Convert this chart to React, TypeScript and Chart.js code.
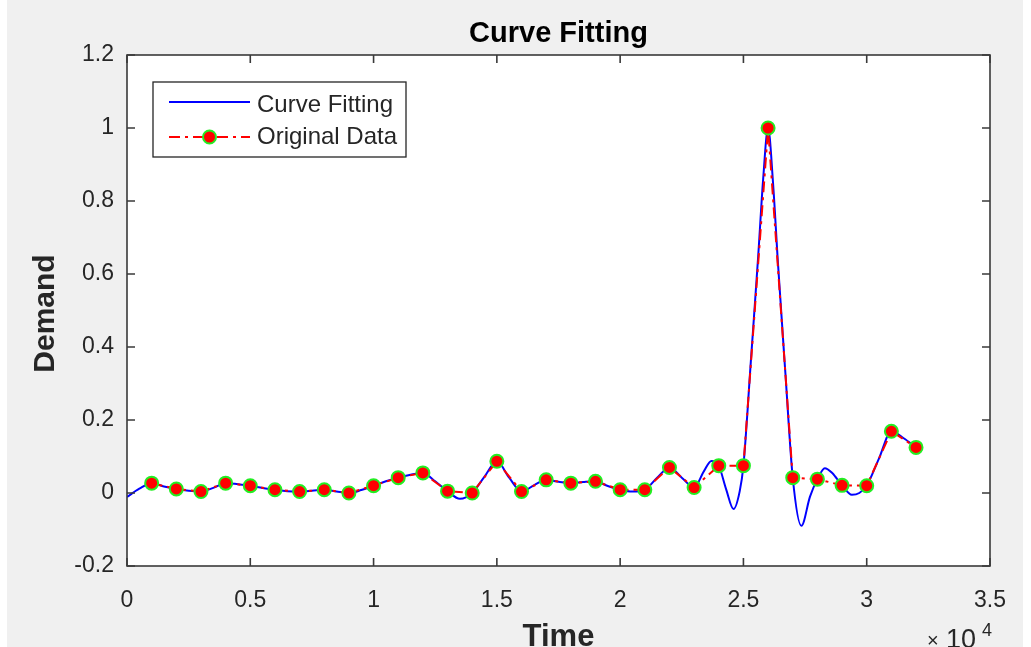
import React, { useEffect, useRef } from "react";
import { Chart, registerables } from "chart.js";

Chart.register(...registerables);

const FONT = '"Liberation Sans", Arial, Helvetica, sans-serif';
const TEXT = "#262626";

const chartTitle = "Curve Fitting";
const xLabel = "Time";
const yLabel = "Demand";
const legendLabels = ["Curve Fitting", "Original Data"];

// Original data
const timeValues = [
  1000, 2000, 3000, 4000, 5000, 6000, 7000, 8000, 9000, 10000, 11000, 12000, 13000, 14000, 15000, 16000,
  17000, 18000, 19000, 20000, 21000, 22000, 23000, 24000, 25000, 26000, 27000, 28000, 29000, 30000, 31000, 32000,
];
const demandValues = [
  0.027, 0.011, 0.004, 0.027, 0.02, 0.009, 0.004, 0.009, 0.0, 0.02, 0.042, 0.055, 0.005, 0.0, 0.087, 0.004,
  0.036, 0.027, 0.032, 0.009, 0.009, 0.07, 0.015, 0.075, 0.075, 1.0, 0.042, 0.038, 0.021, 0.02, 0.169, 0.125,
];

// Fitted curve
const fitTimes = [
  0, 500, 1000, 1500, 2000, 2500, 3000, 3500, 4000, 4500, 5000, 5500, 6000, 6500, 7000, 7500, 8000, 8500, 9000,
  9500, 10000, 10500, 11000, 11500, 12000, 12500, 13000, 13500, 14000, 14500, 15000, 15500, 16000, 16500, 17000,
  17500, 18000, 18500, 19000, 19500, 20000, 20500, 21000, 21500, 22000, 22500, 23000, 23400, 23700, 24000, 24300,
  24600, 24850, 25000, 25300, 25600, 25800, 26000, 26200, 26400, 26700, 27000, 27350, 27700, 28000, 28300, 28600,
  29000, 29400, 29700, 30000, 30500, 31000, 31500, 32000,
];
const fitValues = [
  -0.011, 0.012, 0.027, 0.018, 0.011, 0.006, 0.004, 0.014, 0.027, 0.024, 0.02, 0.014, 0.009, 0.005, 0.004, 0.006,
  0.009, 0.004, 0.0, 0.008, 0.02, 0.032, 0.042, 0.05, 0.055, 0.032, 0.005, -0.016, 0.0, 0.045, 0.087, 0.042, 0.004,
  0.021, 0.036, 0.031, 0.027, 0.03, 0.032, 0.019, 0.009, 0.004, 0.009, 0.042, 0.07, 0.042, 0.015, 0.06, 0.088,
  0.075, 0.01, -0.044, 0.005, 0.075, 0.36, 0.65, 0.86, 1.0, 0.85, 0.63, 0.33, 0.042, -0.09, -0.01, 0.038, 0.068,
  0.055, 0.021, -0.005, 0.0, 0.02, 0.095, 0.169, 0.15, 0.125,
];

const xMin = 0;
const xMax = 35000;
const xStep = 5000;
const yMin = -0.2;
const yMax = 1.2;
const yStep = 0.2;

export default function App() {
  const ref = useRef<HTMLCanvasElement>(null);

  useEffect(() => {
    const canvas = ref.current!;
    const decor = {
      id: "decor",
      beforeDraw(chart: any) {
        const { ctx, chartArea: a, width, height } = chart;
        ctx.save();
        ctx.fillStyle = "#f0f0f0";
        ctx.fillRect(0, 0, width, height);
        ctx.fillStyle = "#ffffff";
        ctx.fillRect(a.left, a.top, a.right - a.left, a.bottom - a.top);
        ctx.restore();
      },
      afterDraw(chart: any) {
        const { ctx, chartArea: a } = chart;
        const xs = chart.scales.x;
        const ys = chart.scales.y;
        ctx.save();
        // box
        ctx.strokeStyle = "#3a3a3a";
        ctx.lineWidth = 1.6;
        ctx.strokeRect(a.left, a.top, a.right - a.left, a.bottom - a.top);
        // inward ticks
        const tl = 8;
        ctx.beginPath();
        xs.ticks.forEach((t: any) => {
          const px = xs.getPixelForValue(t.value);
          ctx.moveTo(px, a.bottom);
          ctx.lineTo(px, a.bottom - tl);
          ctx.moveTo(px, a.top);
          ctx.lineTo(px, a.top + tl);
        });
        ys.ticks.forEach((t: any) => {
          const py = ys.getPixelForValue(t.value);
          ctx.moveTo(a.left, py);
          ctx.lineTo(a.left + tl, py);
          ctx.moveTo(a.right, py);
          ctx.lineTo(a.right - tl, py);
        });
        ctx.stroke();

        // title
        const cx = (a.left + a.right) / 2;
        ctx.fillStyle = "#000000";
        ctx.font = `bold 29px ${FONT}`;
        ctx.textAlign = "center";
        ctx.textBaseline = "alphabetic";
        ctx.fillText(chartTitle, cx, 42);

        // x label
        ctx.fillStyle = TEXT;
        ctx.font = `bold 31px ${FONT}`;
        ctx.fillText(xLabel, cx, 646);

        // y label
        ctx.save();
        ctx.translate(39, (a.top + a.bottom) / 2 + 3);
        ctx.rotate(-Math.PI / 2);
        ctx.textBaseline = "middle";
        ctx.font = `bold 30px ${FONT}`;
        ctx.fillText(yLabel, 0, 0);
        ctx.restore();

        // x10^4
        ctx.textAlign = "left";
        ctx.textBaseline = "alphabetic";
        ctx.font = `20px ${FONT}`;
        ctx.fillText("\u00d7", 920, 647);
        ctx.font = `27px ${FONT}`;
        ctx.fillText("10", 939, 648);
        ctx.font = `18px ${FONT}`;
        ctx.fillText("4", 975, 636);

        // legend
        const lx0 = 146, lx1 = 399, ly0 = 82, ly1 = 157;
        ctx.fillStyle = "#ffffff";
        ctx.fillRect(lx0, ly0, lx1 - lx0, ly1 - ly0);
        ctx.strokeStyle = "#262626";
        ctx.lineWidth = 1.3;
        ctx.strokeRect(lx0, ly0, lx1 - lx0, ly1 - ly0);
        const sx0 = 162, sx1 = 243;
        const r1 = 102, r2 = 137;
        ctx.strokeStyle = "#0000ff";
        ctx.lineWidth = 2;
        ctx.beginPath();
        ctx.moveTo(sx0, r1);
        ctx.lineTo(sx1, r1);
        ctx.stroke();
        ctx.strokeStyle = "#ff0000";
        ctx.setLineDash([11, 5, 3, 5]);
        ctx.beginPath();
        ctx.moveTo(sx0, r2);
        ctx.lineTo(sx1, r2);
        ctx.stroke();
        ctx.setLineDash([]);
        ctx.beginPath();
        ctx.arc((sx0 + sx1) / 2, r2, 6.5, 0, Math.PI * 2);
        ctx.fillStyle = "#ff0000";
        ctx.fill();
        ctx.strokeStyle = "#22ee22";
        ctx.lineWidth = 2;
        ctx.stroke();
        ctx.fillStyle = TEXT;
        ctx.font = `24px ${FONT}`;
        ctx.textAlign = "left";
        ctx.textBaseline = "middle";
        ctx.fillText(legendLabels[0], 250, 105);
        ctx.fillText(legendLabels[1], 250, 137);
        ctx.restore();
      },
    };

    const chart = new Chart(canvas, {
      type: "line",
      data: {
        datasets: [
          {
            label: legendLabels[0],
            data: fitTimes.map((t, i) => ({ x: t, y: fitValues[i] })),
            borderColor: "#0000ff",
            borderWidth: 2,
            pointRadius: 0,
            cubicInterpolationMode: "monotone",
            fill: false,
            order: 2,
          },
          {
            label: legendLabels[1],
            data: timeValues.map((t, i) => ({ x: t, y: demandValues[i] })),
            borderColor: "#ff0000",
            borderWidth: 2,
            borderDash: [11, 5, 3, 5],
            pointRadius: 6.5,
            pointBackgroundColor: "#ff0000",
            pointBorderColor: "#22ee22",
            pointBorderWidth: 2,
            tension: 0,
            fill: false,
            order: 1,
          },
        ],
      },
      options: {
        responsive: false,
        animation: false,
        devicePixelRatio: 1,
        layout: { padding: { top: 55, right: 33, left: 0, bottom: 0 } },
        plugins: {
          legend: { display: false },
          title: { display: false },
          tooltip: { enabled: false },
        },
        scales: {
          x: {
            type: "linear",
            min: xMin,
            max: xMax,
            ticks: {
              stepSize: xStep,
              callback: (v: any) => String(Math.round(Number(v) / 1000) / 10),
              font: { family: FONT, size: 23 },
              color: TEXT,
              padding: 21,
              maxRotation: 0,
              autoSkip: false,
            },
            grid: { display: false, drawTicks: false },
            border: { display: false },
            afterFit: (s: any) => {
              s.height = 81;
              s.paddingLeft = 0;
              s.paddingRight = 0;
            },
          },
          y: {
            type: "linear",
            min: yMin,
            max: yMax,
            ticks: {
              stepSize: yStep,
              callback: (v: any) => String(Math.round(Number(v) * 10) / 10),
              font: { family: FONT, size: 23 },
              color: TEXT,
              padding: 13,
              autoSkip: false,
            },
            grid: { display: false, drawTicks: false },
            border: { display: false },
            afterFit: (s: any) => {
              s.width = 120;
              s.paddingTop = 0;
              s.paddingBottom = 0;
            },
          },
        },
      },
      plugins: [decor],
    } as any);
    return () => chart.destroy();
  }, []);

  return (
    <div style={{ position: "fixed", left: 7, top: 0, width: 1016, height: 647, background: "#f0f0f0" }}>
      <canvas ref={ref} width={1016} height={647} style={{ display: "block", width: 1016, height: 647 }} />
    </div>
  );
}
